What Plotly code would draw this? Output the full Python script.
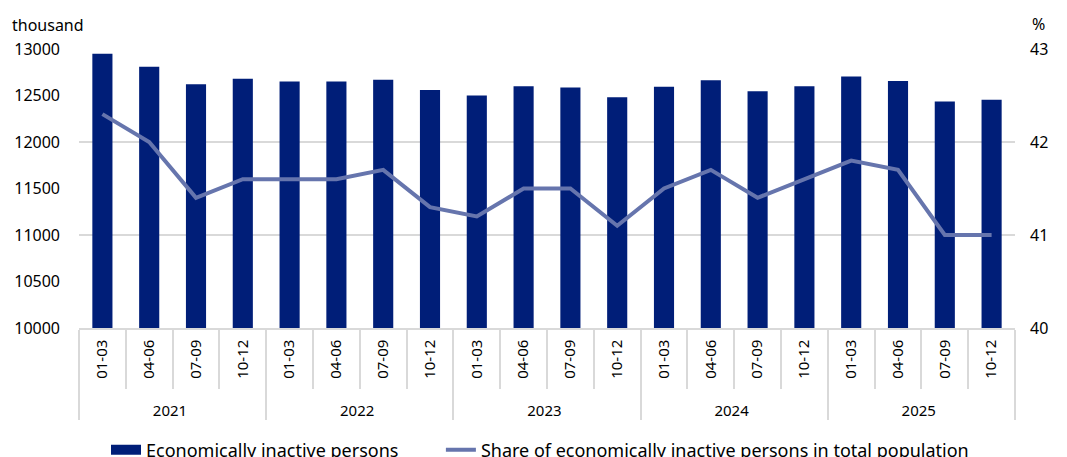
import plotly.graph_objects as go

years = ["2021"] * 4 + ["2022"] * 4 + ["2023"] * 4 + ["2024"] * 4 + ["2025"] * 4
quarters = ["01-03", "04-06", "07-09", "10-12"] * 5
inactive = [12950, 12810, 12620, 12680, 12650, 12650, 12670, 12560, 12500, 12600,
            12585, 12480, 12595, 12665, 12545, 12600, 12705, 12655, 12435, 12455]
share = [42.3, 42.0, 41.4, 41.6, 41.6, 41.6, 41.7, 41.3, 41.2, 41.5,
         41.5, 41.1, 41.5, 41.7, 41.4, 41.6, 41.8, 41.7, 41.0, 41.0]
left_ticks = [10000, 10500, 11000, 11500, 12000, 12500, 13000]
right_ticks = [40, 41, 42, 43]

FONT = "Noto Sans"
BAR_C = "#001E78"
LINE_C = "#6675AD"
GRID_C = "#D9D9D9"
NB = "\u00a0"

# non-breaking spaces pad the rotated quarter labels so both label rows sit like the reference
quarter_labels = [NB * 2 + q + NB for q in quarters]
x_cats = [years, quarter_labels]

fig = go.Figure()
fig.add_trace(go.Bar(
    x=x_cats, y=inactive, name="Economically inactive persons",
    marker=dict(color=BAR_C, line=dict(width=0)), yaxis="y", showlegend=False,
))
# legend entry for the bars (wide rectangle swatch like the reference)
fig.add_trace(go.Scatter(
    x=[None], y=[None], mode="lines", name="Economically inactive persons" + NB * 8,
    line=dict(color=BAR_C, width=11), yaxis="y",
))
fig.add_trace(go.Scatter(
    x=x_cats, y=share, name="Share of economically inactive persons in total population",
    mode="lines", line=dict(color=LINE_C, width=4), yaxis="y2",
))

fig.update_layout(
    width=1067, height=457,
    margin=dict(l=79, r=52, t=49, b=129),
    paper_bgcolor="white", plot_bgcolor="white",
    font=dict(family=FONT, size=16, color="#000000"),
    bargap=0.57,
    showlegend=True,
    legend=dict(orientation="h", x=106 / 1067, xanchor="left", xref="container",
                y=7 / 457, yanchor="middle", yref="container",
                font=dict(size=18), tracegroupgap=0, itemclick=False),
    xaxis=dict(
        type="multicategory", tickangle=-90, automargin=False,
        showline=True, linecolor=GRID_C, linewidth=1.5,
        ticks="outside", ticklen=59, tickcolor=GRID_C, tickwidth=1.5,
        showdividers=True, dividercolor=GRID_C, dividerwidth=1.5,
        tickfont=dict(size=15), showgrid=False,
    ),
    yaxis=dict(
        range=[10000, 13000], tickvals=left_ticks, tickformat="d", automargin=False,
        showgrid=False, zeroline=False, tickfont=dict(size=16), ticks="",
        ticklabelstandoff=18,
    ),
    yaxis2=dict(
        range=[40, 43], tickvals=right_ticks, overlaying="y", side="right", automargin=False,
        showgrid=True, gridcolor=GRID_C, gridwidth=1.5, zeroline=False,
        tickfont=dict(size=16), ticks="", ticklabelstandoff=14,
    ),
    annotations=[
        dict(text="thousand", xref="paper", yref="paper", x=-0.074, y=1.085,
             xanchor="left", yanchor="middle", showarrow=False, font=dict(size=16)),
        dict(text="%", xref="paper", yref="paper", x=1.016, y=1.09,
             xanchor="left", yanchor="middle", showarrow=False, font=dict(size=16)),
    ],
)

fig.write_html("out.html", config={"displayModeBar": False},
               post_script="document.body.style.margin='0';document.body.style.overflow='hidden';")
